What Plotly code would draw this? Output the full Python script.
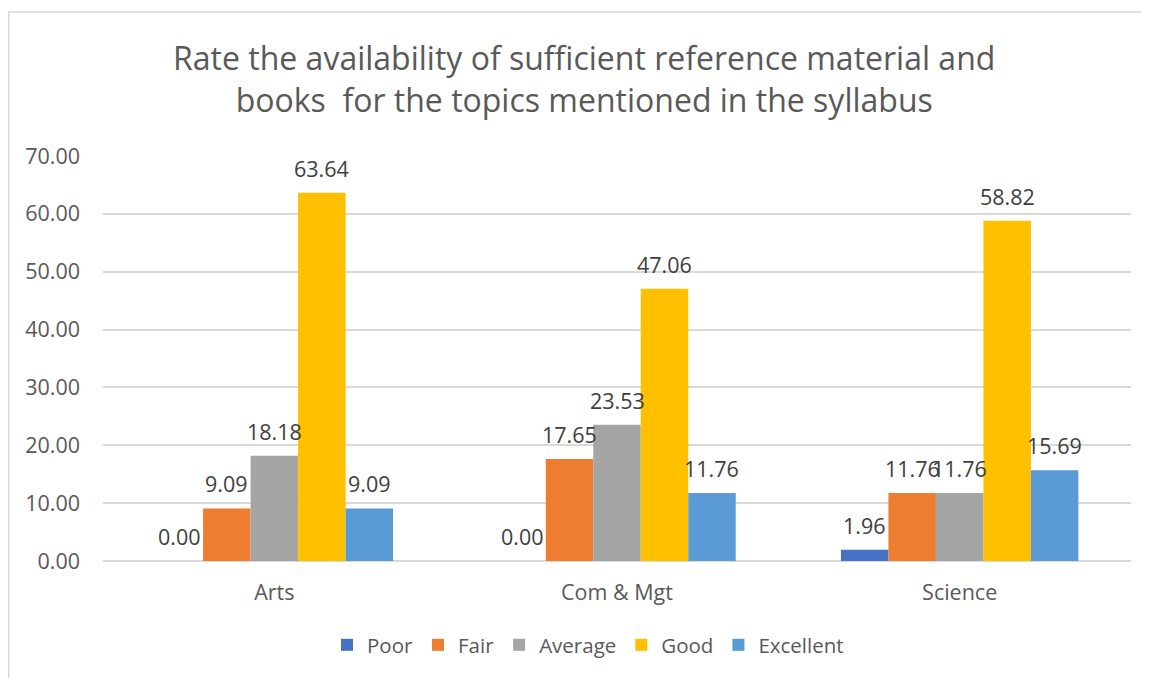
import plotly.graph_objects as go

categories = ["Arts", "Com & Mgt", "Science"]
series_names = ["Poor", "Fair", "Average", "Good", "Excellent"]
poor = [0.00, 0.00, 1.96]
fair = [9.09, 17.65, 11.76]
average = [18.18, 23.53, 11.76]
good = [63.64, 47.06, 58.82]
excellent = [9.09, 11.76, 15.69]
y_ticks = [0, 10, 20, 30, 40, 50, 60, 70]

colors = ["#4472C4", "#ED7D31", "#A5A5A5", "#FFC000", "#5B9BD5"]
values = [poor, fair, average, good, excellent]

FONT = "Open Sans"
FS = 21.5
fig = go.Figure()
for name, vals, col in zip(series_names, values, colors):
    fig.add_trace(go.Bar(
        x=categories, y=vals, name=name, marker_color=col,
        marker_line_width=0, textposition="none",
    ))

W, H = 1141, 670
L, R, T, B = 95, 18, 148, 117
pw, ph = W - L - R, H - T - B

# data labels placed through the axes' own scales (category + value), offset per series
bargap = 0.307
ns = len(series_names)
slot = (1 - bargap) / ns
for i, (vals, col) in enumerate(zip(values, colors)):
    off = (i - (ns - 1) / 2) * slot
    for j, v in enumerate(vals):
        fig.add_annotation(
            x=j + off, y=v, xref="x", yref="y",
            text=f"{v:.2f}", showarrow=False, yanchor="bottom", yshift=8,
            font=dict(family=FONT, size=FS, color="#404040"),
        )

fig.update_layout(
    width=W, height=H,
    paper_bgcolor="white", plot_bgcolor="white",
    barmode="group", bargap=bargap, bargroupgap=0,
    margin=dict(l=L, r=R, t=T, b=B),
    title=dict(
        text="Rate the availability of sufficient reference material and<br>books  for the topics mentioned in the syllabus",
        x=0.505, xanchor="center", y=1 - 62 / H, yanchor="top",
        font=dict(family=FONT, size=32, color="#595959"),
    ),
    legend=dict(orientation="h", x=(580 - L) / pw, xanchor="center", y=-(637 - (H - B)) / ph, yanchor="middle",
                font=dict(family=FONT, size=20.5, color="#595959"), itemwidth=30,
                traceorder="normal"),
    xaxis=dict(showline=False, ticks="", ticklabelstandoff=16,
               tickfont=dict(family=FONT, size=FS, color="#595959")),
    yaxis=dict(range=[0, 70], tickvals=y_ticks, tickformat=".2f",
               showgrid=True, gridcolor="#D9D9D9", gridwidth=1.5,
               zeroline=True, zerolinecolor="#D9D9D9", zerolinewidth=1.5,
               ticks="", ticklabelstandoff=22,
               tickfont=dict(family=FONT, size=FS, color="#595959")),
    shapes=[dict(type="rect", xref="paper", yref="paper",
                 x0=(0.75 - L) / pw, x1=(W + 20 - L) / pw,
                 y0=-(H + 20 - (H - B)) / ph, y1=((H - B) - 4) / ph,
                 line=dict(color="#D9D9D9", width=1.5))],
)
fig.write_html("out.html")
